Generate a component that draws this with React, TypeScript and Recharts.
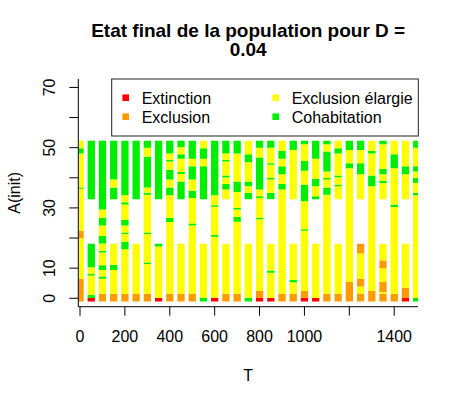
import React from "react";
import { ComposedChart, Bar, Cell, XAxis, YAxis } from "recharts";

// T values (one column of cells per value)
const T_VALUES = [
  0, 50, 100, 150, 200, 250, 300, 350, 400, 450, 500, 550, 600, 650, 700, 750,
  800, 850, 900, 950, 1000, 1050, 1100, 1150, 1200, 1250, 1300, 1350, 1400,
  1450, 1500,
];

const STATE_CODES = ["R", "O", "Y", "G"];
const STATE_LABELS = ["Extinction", "Exclusion", "Exclusion élargie", "Cohabitation"];
const STATE_COLORS = ["#FF0000", "#FF9A00", "#FFFF00", "#00EE00"];

const X_TICKS = [0, 200, 400, 600, 800, 1000, 1200, 1400];
const X_TICK_LABELS = [0, 200, 400, 600, 800, 1000, 1400];
const Y_TICKS = [0, 10, 20, 30, 40, 50, 60, 70];
const Y_TICK_LABELS = [0, 10, 30, 50, 70];

// lowest visible A(init) of every column
const A_BOTTOM = -1.1;

// each column read bottom -> top: state code + upper A(init) of the run, "_" = no cell
const COLUMN_RUNS = [
  "O6.5 Y19.9 O22.4 Y36.4 G36.8 Y48.1 G49.8 Y52.3",
  "R0.1 G1.2 Y7.6 G8.1 Y10.3 G18.1 _32.9 G52.3",
  "O1.5 Y6.5 G7.2 Y9.4 G11.0 Y15.2 G15.8 Y18.2 G20.7 Y24.2 G26.7 Y29.5 G52.3",
  "O1.5 Y9.4 G11.1 Y18.1 _32.9 G36.8 Y39.4 G52.3",
  "O1.5 Y16.3 G18.8 Y21.3 G21.8 Y24.2 G26.0 Y31.1 G31.9 Y34.2 G52.3",
  "O1.5 Y18.1 _32.9 G52.3",
  "O1.5 Y11.4 G11.9 Y21.3 G21.8 Y34.4 G35.0 Y36.8 G47.0 Y50.0 G52.3",
  "R0.1 Y17.2 G18.1 _32.9 G52.3",
  "O1.5 Y25.3 G26.7 Y34.2 G36.8 Y39.4 G42.7 Y45.4 G46.0 Y48.1 G52.3",
  "O1.5 Y18.1 _32.9 G38.8 Y41.3 G41.9 Y46.3 G47.8 Y50.1 G52.3",
  "O1.5 Y24.2 G24.8 Y33.3 G35.7 Y39.4 G43.8 Y46.3 G52.3",
  "G0.2 Y18.1 _32.9 G43.8 Y46.3 G49.8 Y52.3",
  "R0.2 Y20.4 G21.0 Y30.4 G30.9 Y34.2 G52.3",
  "O1.5 Y18.1 _32.9 Y36.1 G37.9 Y40.1 G40.8 Y45.4 G46.0 Y48.1 G52.3",
  "O1.5 Y25.4 G27.0 Y29.5 G30.0 Y35.3 G38.8 Y48.1 G52.3",
  "G0.2 Y18.1 _32.9 G35.0 Y37.2 G38.8 Y45.2 G47.8 Y52.3",
  "R0.1 O2.4 Y26.2 G26.7 Y33.3 G33.9 Y36.1 G46.7 Y50.0 G52.3",
  "R0.1 Y8.5 G9.2 Y18.1 _32.9 G35.0 Y39.4 G39.9 Y44.3 G44.8 Y50.0 G52.3",
  "O1.5 Y36.1 G37.9 Y41.2 G43.8 Y46.3 G48.9 Y52.3",
  "O1.5 Y5.3 G6.1 Y18.1 _32.9 Y49.2 G52.3",
  "R0.1 O2.4 Y22.4 G22.9 Y32.2 G37.7 Y42.3 G45.6 Y51.1 G52.3",
  "R0.1 Y18.1 _32.9 G33.9 Y37.2 G39.7 Y46.3 G52.3",
  "O1.5 Y34.4 G36.8 Y39.4 G39.9 Y42.1 G48.7 Y51.1 G52.3",
  "O1.5 Y18.1 _32.9 Y37.2 G37.7 Y40.2 G40.8 Y48.1 G49.8 Y52.3",
  "O5.4 Y43.2 G44.8 Y49.2 G52.3",
  "O1.5 Y3.9 O6.5 Y14.9 O18.1 _32.9 Y41.2 G44.8 Y49.2 G52.3",
  "O2.4 Y37.2 G40.8 Y48.1 G48.9 Y52.3",
  "O1.5 Y2.1 O5.4 Y10.0 O12.5 Y18.1 _32.9 Y38.3 G39.0 Y41.2 G42.9 Y51.1 G52.3",
  "O1.5 Y30.3 G31.1 Y43.2 G47.8 Y52.3",
  "R0.1 O3.5 Y18.1 _32.9 Y41.2 G43.8 Y52.3",
  "G0.2 Y34.2 G35.0 Y38.3 G39.9 Y42.1 G43.8 Y50.0 G52.3",
];

type Seg = { lo: number; hi: number; state: number };

const parseRuns = (runs: string): Seg[] => {
  const segs: Seg[] = [];
  let lo = A_BOTTOM;
  runs.split(" ").forEach((tok) => {
    const hi = parseFloat(tok.slice(1));
    const state = STATE_CODES.indexOf(tok[0]);
    if (state >= 0) segs.push({ lo, hi, state });
    lo = hi;
  });
  return segs;
};

const data = T_VALUES.map((t, i) => ({ t, segs: parseRuns(COLUMN_RUNS[i]) }));
const maxSegs = Math.max(...data.map((d) => d.segs.length));

const FONT = "'Liberation Sans', Arial, Helvetica, sans-serif";
const BAR_W = 7.3;

const XTick = (props: any) => {
  const { x, y, payload } = props;
  if (!X_TICK_LABELS.includes(payload.value)) return <g />;
  return (
    <text x={x} y={y} dy="0.71em" textAnchor="middle" fontSize={16} fontFamily={FONT} fill="#000">
      {payload.value}
    </text>
  );
};

const YTick = (props: any) => {
  const { x, y, payload } = props;
  if (!Y_TICK_LABELS.includes(payload.value)) return <g />;
  return (
    <text
      x={x}
      y={y}
      transform={`rotate(-90 ${x} ${y})`}
      textAnchor="middle"
      fontSize={16}
      fontFamily={FONT}
      fill="#000"
    >
      {payload.value}
    </text>
  );
};

const Overlay = () => {
  const legendCols = [125.7, 275.7];
  const legendRows = [97.7, 116.7];
  return (
    <svg
      width={459}
      height={405}
      style={{ position: "absolute", left: 0, top: 0, pointerEvents: "none" }}
      fontFamily={FONT}
    >
      <text x={248.2} y={36.5} textAnchor="middle" fontSize={19} fontWeight="bold">
        Etat final de la population pour D =
      </text>
      <text x={248.2} y={55.5} textAnchor="middle" fontSize={19} fontWeight="bold">
        0.04
      </text>
      <text x={248.2} y={381} textAnchor="middle" fontSize={16}>
        T
      </text>
      <text x={20} y={192.9} textAnchor="middle" fontSize={16} transform="rotate(-90 20 192.9)">
        A(init)
      </text>
      <rect x={111.7} y={79} width={306.6} height={57} fill="#fff" stroke="#222" strokeWidth={1} />
      {STATE_LABELS.map((label, i) => {
        const cx = legendCols[i >> 1];
        const cy = legendRows[i % 2];
        return (
          <g key={label}>
            <rect x={cx - 3.3} y={cy - 3.3} width={6.6} height={6.6} fill={STATE_COLORS[i]} />
            <text x={cx + 16} y={cy + 5.8} fontSize={16} fill="#000">
              {label}
            </text>
          </g>
        );
      })}
    </svg>
  );
};

export default function App() {
  return (
    <div style={{ position: "absolute", left: 0, top: 0, width: 459, height: 405, background: "#fff" }}>
      <ComposedChart
        width={459}
        height={405}
        data={data}
        margin={{ top: 79, right: 41, left: 18.3, bottom: 48.3 }}
        barSize={BAR_W}
        barGap={-BAR_W}
      >
        <XAxis
          dataKey="t"
          type="number"
          domain={[-7.6, 1506]}
          allowDataOverflow
          ticks={X_TICKS}
          interval={0}
          height={50}
          tickSize={9}
          tickMargin={15}
          tick={<XTick />}
          axisLine={{ stroke: "#000" }}
          tickLine={{ stroke: "#000" }}
        />
        <YAxis
          type="number"
          domain={[-2.8, 72.8]}
          allowDataOverflow
          ticks={Y_TICKS}
          interval={0}
          width={60}
          tickSize={9}
          tickMargin={13.8}
          tick={<YTick />}
          axisLine={{ stroke: "#000" }}
          tickLine={{ stroke: "#000" }}
        />
        <XAxis
          xAxisId="frameTop"
          orientation="top"
          type="number"
          domain={[-7.6, 1506]}
          height={0}
          tick={false}
          tickLine={false}
          axisLine={{ stroke: "#000" }}
        />
        <YAxis
          yAxisId="frameRight"
          orientation="right"
          type="number"
          domain={[0, 1]}
          width={0}
          tick={false}
          tickLine={false}
          axisLine={{ stroke: "#000" }}
        />
        {Array.from({ length: maxSegs }, (_, k) => (
          <Bar
            key={k}
            dataKey={(d: any) => {
              const s = d.segs[k];
              return s ? [s.lo, s.hi] : [A_BOTTOM, A_BOTTOM];
            }}
            isAnimationActive={false}
          >
            {data.map((d, i) => (
              <Cell key={i} fill={d.segs[k] ? STATE_COLORS[d.segs[k].state] : "none"} />
            ))}
          </Bar>
        ))}
      </ComposedChart>
      <Overlay />
    </div>
  );
}
